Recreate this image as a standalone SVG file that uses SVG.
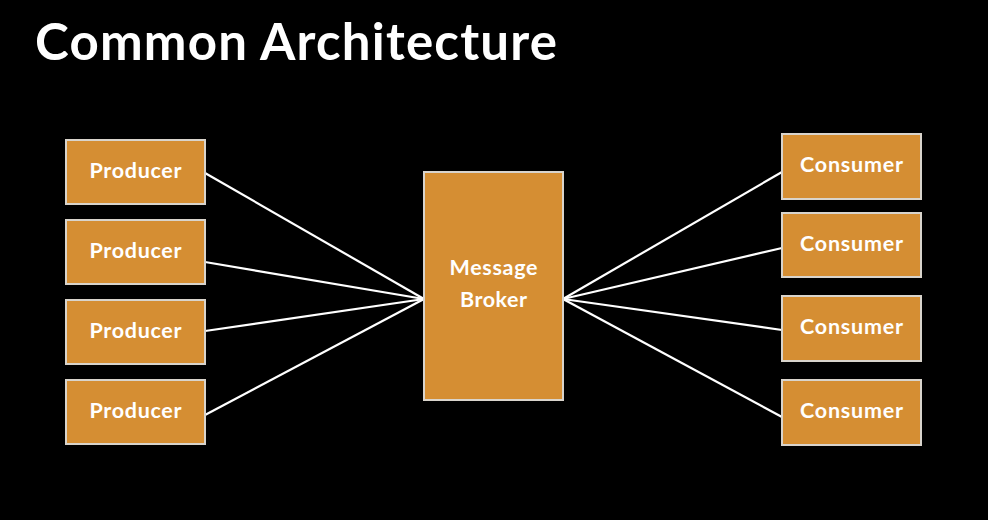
<svg xmlns="http://www.w3.org/2000/svg" width="988" height="520" viewBox="0 0 988 520">
<style>
.bg{fill:#000}
.box{fill:#D58E33;stroke:#D9D4CC;stroke-width:2}
.lbl{fill:#fff;font-family:Lato,"Open Sans","Liberation Sans",sans-serif;font-weight:700;font-size:21.5px;text-anchor:middle}
.title{fill:#fff;font-family:Lato,"Open Sans","Liberation Sans",sans-serif;font-weight:700;font-size:51px}
.conn line{stroke:#fff;stroke-width:2.2}
</style>
<rect class="bg" x="0" y="0" width="988" height="520"/>
<text class="title" x="35" y="60" textLength="522" lengthAdjust="spacing">Common Architecture</text>
<g class="conn" id="connectors">
<line x1="205" y1="173" x2="424" y2="299"/>
<line x1="205" y1="262" x2="424" y2="299"/>
<line x1="205" y1="331" x2="424" y2="299"/>
<line x1="205" y1="415" x2="424" y2="299"/>
<line x1="563" y1="299" x2="782" y2="172"/>
<line x1="563" y1="299" x2="782" y2="248"/>
<line x1="563" y1="299" x2="782" y2="330"/>
<line x1="563" y1="299" x2="782" y2="417"/>
</g>
<g id="producer1"><rect class="box" x="66" y="140" width="139" height="64"/><text class="lbl" x="135.5" y="178" textLength="92" lengthAdjust="spacing">Producer</text></g>
<g id="producer2"><rect class="box" x="66" y="220" width="139" height="64"/><text class="lbl" x="135.5" y="258" textLength="92" lengthAdjust="spacing">Producer</text></g>
<g id="producer3"><rect class="box" x="66" y="300" width="139" height="64"/><text class="lbl" x="135.5" y="338" textLength="92" lengthAdjust="spacing">Producer</text></g>
<g id="producer4"><rect class="box" x="66" y="380" width="139" height="64"/><text class="lbl" x="135.5" y="418" textLength="92" lengthAdjust="spacing">Producer</text></g>
<g id="broker"><rect class="box" x="424" y="172" width="139" height="228"/><text class="lbl" x="493.5" y="275" textLength="88" lengthAdjust="spacing">Message</text><text class="lbl" x="493.5" y="307" textLength="67" lengthAdjust="spacing">Broker</text></g>
<g id="consumer1"><rect class="box" x="782" y="134" width="139" height="65"/><text class="lbl" x="851.5" y="172" textLength="103" lengthAdjust="spacing">Consumer</text></g>
<g id="consumer2"><rect class="box" x="782" y="213" width="139" height="64"/><text class="lbl" x="851.5" y="251" textLength="103" lengthAdjust="spacing">Consumer</text></g>
<g id="consumer3"><rect class="box" x="782" y="296" width="139" height="65"/><text class="lbl" x="851.5" y="334" textLength="103" lengthAdjust="spacing">Consumer</text></g>
<g id="consumer4"><rect class="box" x="782" y="380" width="139" height="65"/><text class="lbl" x="851.5" y="418" textLength="103" lengthAdjust="spacing">Consumer</text></g>
</svg>
